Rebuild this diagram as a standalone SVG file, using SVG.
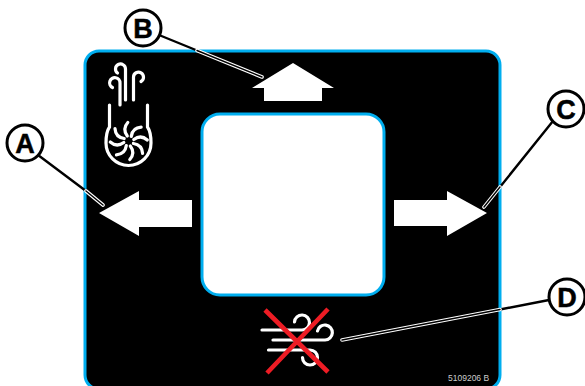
<svg xmlns="http://www.w3.org/2000/svg" width="585" height="386" viewBox="0 0 585 386">
<style>
.ic{fill:none;stroke:#fff;stroke-width:3.2;stroke-linecap:round}
.w{fill:#fff}
.lb{fill:#fff;stroke:#000;stroke-width:3}
.lt{font-family:"Liberation Sans",Arial,sans-serif;font-weight:700;font-size:27px;fill:#000;stroke:#000;stroke-width:.5;text-anchor:middle}
.lo{fill:none;stroke:#000;stroke-width:2.4}
.hw{fill:none;stroke:#fff;stroke-width:3.6;stroke-linecap:round}
.hb{fill:none;stroke:#000;stroke-width:1.4;stroke-linecap:round}
.x{stroke:#ed1c24;stroke-width:4.6;fill:none}
</style>
<defs>
<path id="blade" d="M-1.500 -5C-4.500 -9 -5 -14 -1 -18.500"/>
</defs>
<g id="panel">
<rect x="85" y="51" width="415" height="338" rx="14" fill="#000" stroke="#00aeef" stroke-width="3"/>
<rect x="202" y="114" width="182" height="181" rx="18" fill="#fff" stroke="#00aeef" stroke-width="3"/>
</g>
<g id="fan-icon">
<path class="ic" d="M125.500 100V69A5 5 0 1 0 117.500 73"/>
<path class="ic" d="M120 105V83A5.200 5.200 0 1 0 112.500 87.500"/>
<path class="ic" d="M133.500 100V77A5 5 0 1 1 141 81.500"/>
<path class="ic" d="M109.500 105V127Q106 132 106 143A22.500 22.500 0 0 0 151 143Q151 132 147.500 127V105"/>
<g class="ic" transform="translate(128.800 141)">
<use href="#blade"/><use href="#blade" transform="rotate(45)"/><use href="#blade" transform="rotate(90)"/><use href="#blade" transform="rotate(135)"/><use href="#blade" transform="rotate(180)"/><use href="#blade" transform="rotate(225)"/><use href="#blade" transform="rotate(270)"/><use href="#blade" transform="rotate(315)"/>
</g>
</g>
<g id="arrow-left"><polygon class="w" points="99,213 139,191 139,200 192,200 192,227 139,227 139,236"/></g>
<g id="arrow-right"><polygon class="w" points="394,200 447,200 447,191 487,213 447,236 447,226 394,226"/></g>
<g id="arrow-up"><polygon class="w" points="293,63 334,88 322,88 322,101 264,101 264,88 252,88"/></g>
<g id="no-wind-icon">
<path class="ic" d="M262 330H302A7.500 7.500 0 1 0 294.500 322"/>
<path class="ic" d="M273 340H325A7.500 7.500 0 1 0 317.500 331"/>
<path class="ic" d="M268.500 350H310A7.500 7.500 0 1 1 302.500 357.500"/>
<path class="x" d="M265 310L328 372M328 309L267 373"/>
</g>
<g id="connectors">
<path class="lo" d="M38 155L86 191M159 35L197 50.500M553 121L500 187M549 300L500 309.500"/>
<path class="hw" d="M86 191L103 205M197 50.500L262 77M500 187L484 207M500 309.500L342 340"/>
<path class="hb" d="M86 191L103 205M197 50.500L262 77M500 187L484 207M500 309.500L342 340"/>
</g>
<g id="label-A"><circle class="lb" cx="25" cy="143" r="18"/><text class="lt" x="25" y="153">A</text></g>
<g id="label-B"><circle class="lb" cx="143" cy="28" r="18"/><text class="lt" x="143" y="38">B</text></g>
<g id="label-C"><circle class="lb" cx="566" cy="109" r="18"/><text class="lt" x="566" y="119">C</text></g>
<g id="label-D"><circle class="lb" cx="567" cy="297" r="18"/><text class="lt" x="567" y="307">D</text></g>
<text x="448" y="381" font-family="'Liberation Sans',Arial,sans-serif" font-size="8.500" fill="#ccc">5109206 B</text>
</svg>
